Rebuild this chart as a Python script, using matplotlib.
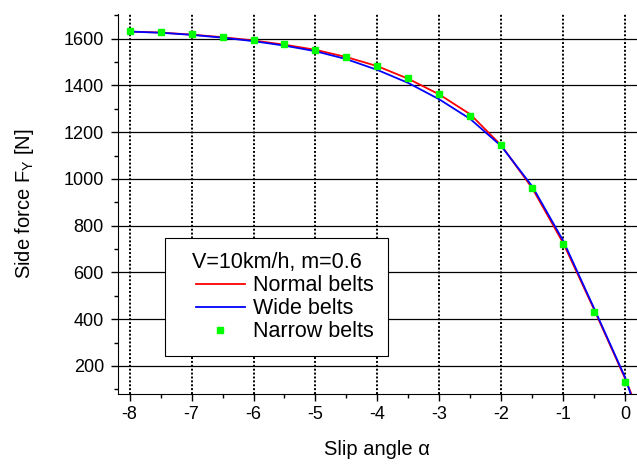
import numpy as np
import matplotlib as mpl
mpl.use('Agg')
import matplotlib.pyplot as plt
from matplotlib.ticker import MultipleLocator
from matplotlib.lines import Line2D
from matplotlib.legend_handler import HandlerLine2D

plt.rcParams['font.family'] = ['Liberation Sans', 'DejaVu Sans']
plt.rcParams['font.size'] = 13
plt.rcParams['mathtext.default'] = 'regular'

# slip angle (deg) and side force (N)
alpha_line = [-8, -7.5, -7, -6.5, -6, -5.5, -5, -4.5, -4, -3.5, -3, -2.5, -2, -1.5, -1, -0.5, 0, 0.1]
fy_normal = [1630, 1626, 1617, 1606, 1592, 1574, 1552, 1521, 1482, 1428, 1361, 1276, 1143, 960, 725, 440, 145, 80]
fy_wide = [1630, 1625, 1616, 1604, 1589, 1570, 1546, 1512, 1466, 1410, 1340, 1256, 1140, 968, 735, 445, 150, 70]

alpha_pts = [-8, -7.5, -7, -6.5, -6, -5.5, -5, -4.5, -4, -3.5, -3, -2.5, -2, -1.5, -1, -0.5, 0]
fy_narrow = [1631, 1627, 1618, 1608, 1594, 1576, 1551, 1521, 1483, 1430, 1363, 1271, 1143, 962, 722, 433, 130]

xticks = [-8, -7, -6, -5, -4, -3, -2, -1, 0]
yticks = [200, 400, 600, 800, 1000, 1200, 1400, 1600]

fig = plt.figure(figsize=(6.37, 4.68), dpi=100)
ax = fig.add_axes([0.185, 0.158, 0.815, 0.812])

ax.plot(alpha_line, fy_normal, color='#ff0000', lw=1.3, label='Normal belts', zorder=3)
ax.plot(alpha_line, fy_wide, color='#0000ff', lw=1.3, label='Wide belts', zorder=3)
ax.plot(alpha_pts, fy_narrow, ls='none', marker='s', ms=5, color='#00ff00', label='Narrow belts', zorder=4)

ax.set_xlim(-8.19, 0.19)
ax.set_ylim(80, 1705)

ax.set_xticks(xticks)
ax.set_xticklabels([str(t) for t in xticks])
ax.set_yticks(yticks)
ax.xaxis.set_minor_locator(MultipleLocator(0.5))
ax.yaxis.set_minor_locator(MultipleLocator(100))
ax.tick_params(which='major', direction='out', length=5, width=1)
ax.tick_params(which='minor', direction='out', length=3, width=1)
ax.tick_params(axis='y', which='major', pad=5)

for x in xticks:
    ax.axvline(x, color='black', lw=1.4, ls=(0, (1, 1)), zorder=1)
for y in yticks:
    ax.axhline(y, color='black', lw=0.9, zorder=1)

ax.spines['top'].set_visible(False)
ax.spines['right'].set_visible(False)

ax.set_xlabel('Slip angle α', fontsize=14.5, labelpad=12)
ax.set_ylabel(r'Side force F$_{Y}$ [N]', fontsize=14.5, labelpad=20)

# extra left room before the handles, like the original legend
leg = ax.legend(title='V=10km/h, m=0.6', loc='upper left',
                bbox_to_anchor=(165 / 637, 1 - 238 / 468), bbox_transform=fig.transFigure,
                borderaxespad=0, fontsize=15.5, title_fontsize=15.5,
                fancybox=False, edgecolor='black', framealpha=1, handlelength=3.05,
                borderpad=0.65, labelspacing=0.1, handletextpad=0.4,
                handler_map={Line2D: HandlerLine2D(xpad=0.8)})
leg.get_frame().set_linewidth(0.8)

plt.savefig('out.png', dpi=100)
